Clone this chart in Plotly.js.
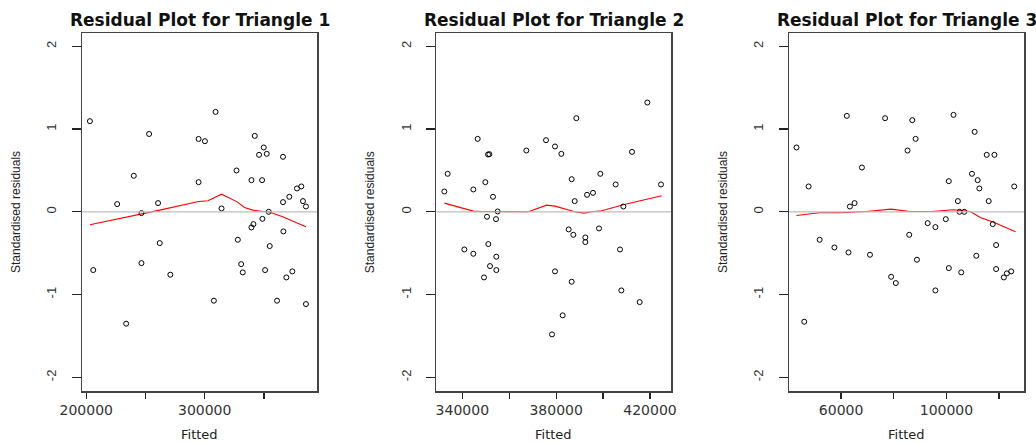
<!DOCTYPE html>
<html>
<head>
<meta charset="utf-8">
<script src="https://cdn.plot.ly/plotly-3.0.1.min.js"></script>
<style>html,body{margin:0;padding:0;background:#fff;}#chart{width:1036px;height:443px;}</style>
</head>
<body>
<div id="chart"></div>
<script>
// ---- Data ----
var panelTitles = ["Residual Plot for Triangle 1", "Residual Plot for Triangle 2", "Residual Plot for Triangle 3"];
var xLabel = "Fitted";
var yLabel = "Standardised residuals";

var t1Fitted = [203087,205893,226096,233673,240127,246580,246580,253033,260610,262013,270992,294843,300175,294843,309154,307751,314204,326832,327954,330760,332163,339459,339459,341143,342265,345913,348438,348719,349841,350964,352367,354050,354892,361065,366116,366116,366397,368922,371448,373973,377902,381550,382953,385478,385478];
var t1Resid = [1.095,-0.704,0.093,-1.352,0.435,-0.016,-0.62,0.94,0.105,-0.378,-0.76,0.88,0.853,0.358,1.207,-1.074,0.04,0.499,-0.338,-0.632,-0.732,0.382,-0.189,-0.149,0.917,0.688,0.382,-0.085,0.777,-0.704,0.70,0.0,-0.414,-1.074,0.664,0.117,-0.237,-0.793,0.181,-0.72,0.282,0.306,0.129,0.064,-1.115];
var t1SmoothX = [203087,246580,262013,294843,302700,314204,327400,333600,340600,349000,354050,365800,385478];
var t1SmoothY = [-0.157,-0.028,0.02,0.125,0.133,0.213,0.12,0.052,0.02,0.004,0.0,-0.06,-0.18];

var t2Fitted = [332327,333748,340853,344689,344689,346537,349237,349805,350516,350942,351510,351084,351795,353073,354352,354494,354494,355063,367283,375667,378225,379504,379504,382204,382772,385330,386609,386609,387320,387888,388599,392435,392435,393146,395704,398262,398830,405367,407214,407783,408635,412330,415598,418866,424692];
var t2Resid = [0.245,0.459,-0.455,0.27,-0.507,0.881,-0.793,0.358,-0.06,0.692,0.696,-0.39,-0.656,0.181,-0.089,-0.543,-0.704,0.004,0.74,0.865,-1.481,0.789,-0.72,0.70,-1.251,-0.213,0.394,-0.845,-0.278,0.129,1.131,-0.31,-0.366,0.205,0.229,-0.201,0.459,0.33,-0.455,-0.95,0.064,0.724,-1.091,1.32,0.33];
var t2SmoothX = [332327,344689,348240,355063,368136,375951,379504,387888,391867,395136,399398,408635,417871,424976];
var t2SmoothY = [0.105,0.008,0.004,0.0,0.0,0.08,0.068,0.0,-0.016,0.0,0.012,0.085,0.141,0.193];

var t3Fitted = [43056,45986,47642,51846,57452,62166,62803,63312,65096,67899,70956,76689,78983,80766,85225,85862,87009,88283,88792,92869,95799,95799,99749,100895,100895,102679,104335,104972,105609,106756,109686,110705,111342,111852,112489,115292,116056,117585,118222,118859,118859,121789,122936,124592,125738];
var t3Resid = [0.777,-1.328,0.306,-0.338,-0.431,1.159,-0.491,0.064,0.105,0.535,-0.519,1.131,-0.785,-0.861,0.74,-0.278,1.107,0.881,-0.579,-0.137,-0.185,-0.95,-0.089,0.37,-0.68,1.171,0.129,0.0,-0.732,0.0,0.459,0.966,-0.531,0.382,0.282,0.688,0.129,-0.149,0.688,-0.402,-0.692,-0.793,-0.744,-0.72,0.306];
var t3SmoothX = [43056,51719,60000,69555,78983,86117,94398,102679,109049,112871,117967,126248];
var t3SmoothY = [-0.044,-0.012,-0.012,0.004,0.032,0.004,0.004,0.024,0.004,-0.068,-0.125,-0.241];

var tickVals1 = [200000,250000,300000,350000];
var tickText1 = ["200000","","300000",""];
var tickVals2 = [340000,360000,380000,400000,420000];
var tickText2 = ["340000","","380000","","420000"];
var tickVals3 = [60000,80000,100000,120000];
var tickText3 = ["60000","","100000",""];
var yTickVals = [-2,-1,0,1,2];
var yTickText = ["-2","-1","0","1","2"];

// ---- Layout geometry ----
var W = 1036, H = 443;
var boxes = [[82,317],[436.3,671],[789,1024]];
var yTop = 33, yBot = 391;
var xRanges = [[196400,394800],[328900,428950],[40200,129450]];
var yRange = [-2.165, 2.16];
var fontFam = "Liberation Sans, Arial, sans-serif";
var wideFam = "DejaVu Sans, Liberation Sans, sans-serif";

var fitted = [t1Fitted,t2Fitted,t3Fitted];
var resid = [t1Resid,t2Resid,t3Resid];
var smX = [t1SmoothX,t2SmoothX,t3SmoothX];
var smY = [t1SmoothY,t2SmoothY,t3SmoothY];
var tv = [tickVals1,tickVals2,tickVals3];
var tt = [tickText1,tickText2,tickText3];

var data = [];
var layout = {
  width: W, height: H,
  margin: {l:0,r:0,t:0,b:0,pad:0},
  paper_bgcolor: "#fff", plot_bgcolor: "#fff",
  showlegend: false,
  font: {family: fontFam, color: "#222"},
  annotations: [], shapes: []
};

for (var i = 0; i < 3; i++) {
  var sfx = i === 0 ? "" : String(i+1);
  var xa = "x" + sfx, ya = "y" + sfx;
  data.push({x: smX[i], y: smY[i], xaxis: xa, yaxis: ya, type: "scatter", mode: "lines",
             line: {color: "#ff0000", width: 1.1}, hoverinfo: "skip"});
  data.push({x: fitted[i], y: resid[i], xaxis: xa, yaxis: ya, type: "scatter", mode: "markers",
             marker: {symbol: "circle-open", size: 5, color: "#000", line: {width: 1, color: "#000"}}});
  var d0 = boxes[i][0]/W, d1 = boxes[i][1]/W;
  layout["xaxis" + sfx] = {
    domain: [d0, d1], range: xRanges[i], anchor: ya,
    showgrid: false, zeroline: false, showline: true, mirror: true,
    linecolor: "#444", linewidth: 1.5,
    ticks: "outside", ticklen: 6, tickwidth: 1.3, tickcolor: "#222",
    tickmode: "array", tickvals: tv[i], ticktext: tt[i],
    tickfont: {size: 14, family: wideFam, color: "#333"}
  };
  layout["yaxis" + sfx] = {
    domain: [1 - yBot/H, 1 - yTop/H], range: yRange, anchor: xa,
    showgrid: false, zeroline: false, showline: true, mirror: true,
    linecolor: "#444", linewidth: 1.5,
    ticks: "outside", ticklen: 9, tickwidth: 1.3, tickcolor: "#222",
    tickmode: "array", tickvals: yTickVals, ticktext: yTickText, tickangle: -90,
    ticklabelstandoff: 10,
    tickfont: {size: 13, family: fontFam, color: "#333"}
  };
  layout.shapes.push({type: "line", xref: xa + " domain", yref: ya, x0: 0, x1: 1, y0: 0, y1: 0,
                      line: {color: "#bebebe", width: 1.2}, layer: "above"});
  var cx = (boxes[i][0] + boxes[i][1]) / 2 / W;
  layout.annotations.push({text: "<b>" + panelTitles[i] + "</b>", xref: "paper", yref: "paper",
    x: cx, y: 1 - 20/H, xanchor: "center", yanchor: "middle", showarrow: false,
    font: {size: 17, family: wideFam, color: "#111"}});
  layout.annotations.push({text: xLabel, xref: "paper", yref: "paper",
    x: cx, y: 1 - 434/H, xanchor: "center", yanchor: "middle", showarrow: false,
    font: {size: 13, family: wideFam, color: "#222"}});
  layout.annotations.push({text: yLabel, xref: "paper", yref: "paper", textangle: -90,
    x: (boxes[i][0] - 66)/W, y: 1 - 212/H, xanchor: "center", yanchor: "middle", showarrow: false,
    font: {size: 12, family: fontFam, color: "#222"}});
}

Plotly.newPlot("chart", data, layout, {staticPlot: true, displayModeBar: false});
</script>
</body>
</html>
